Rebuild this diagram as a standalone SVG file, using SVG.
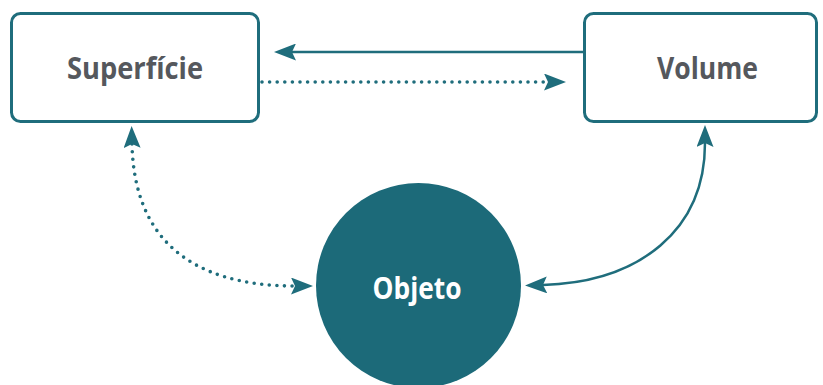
<svg xmlns="http://www.w3.org/2000/svg" width="823" height="385" viewBox="0 0 823 385">
  <style>
    .box { fill: #ffffff; stroke: #1f6d7c; stroke-width: 3; }
    .label { font-family: "Open Sans", "Noto Sans", "DejaVu Sans", sans-serif; font-weight: 700; font-size: 30px; fill: #55585d; text-anchor: middle; }
    .label-light { fill: #ffffff; }
    .link { fill: none; stroke: #1f6d7c; stroke-width: 2.5; }
    .dotted { stroke-width: 3.6; stroke-dasharray: 0 7.6; stroke-linecap: round; }
  </style>
  <defs>
    <!-- barbed arrowhead; reference point sits on the notch so the line ends inside it -->
    <marker id="head" markerUnits="userSpaceOnUse" viewBox="0 0 22 17" markerWidth="22" markerHeight="17" refX="4" refY="8.5" orient="auto-start-reverse">
      <path d="M0,0 L22,8.5 L0,17 L4,8.5 Z" fill="#1f6d7c"/>
    </marker>
  </defs>

  <g id="connectors">
    <!-- Volume to Superfície (solid) -->
    <path class="link" d="M583,52 L292,52" marker-end="url(#head)"/>
    <!-- Superfície to Volume (dotted) -->
    <path class="link dotted" d="M262,82 L548,82" marker-end="url(#head)"/>
    <!-- Superfície and Objeto (dotted, both ends) -->
    <path class="link dotted" d="M132,144 C134,238 190,286 295,286" marker-start="url(#head)" marker-end="url(#head)"/>
    <!-- Volume and Objeto (solid, both ends) -->
    <path class="link" d="M705,143 C705,230 640,282 543,285" marker-start="url(#head)" marker-end="url(#head)"/>
  </g>

  <g id="superficie">
    <rect class="box" x="11.5" y="13.5" width="247" height="108" rx="9"/>
    <text class="label" x="135" y="78.5" textLength="136" lengthAdjust="spacingAndGlyphs">Superfície</text>
  </g>

  <g id="volume">
    <rect class="box" x="584.5" y="13.5" width="232" height="108" rx="9"/>
    <text class="label" x="707.5" y="78.5" textLength="101" lengthAdjust="spacingAndGlyphs">Volume</text>
  </g>

  <g id="objeto">
    <circle cx="418.5" cy="285.5" r="102.5" fill="#1c6a79"/>
    <text class="label label-light" x="417" y="299" textLength="89" lengthAdjust="spacingAndGlyphs">Objeto</text>
  </g>
</svg>
